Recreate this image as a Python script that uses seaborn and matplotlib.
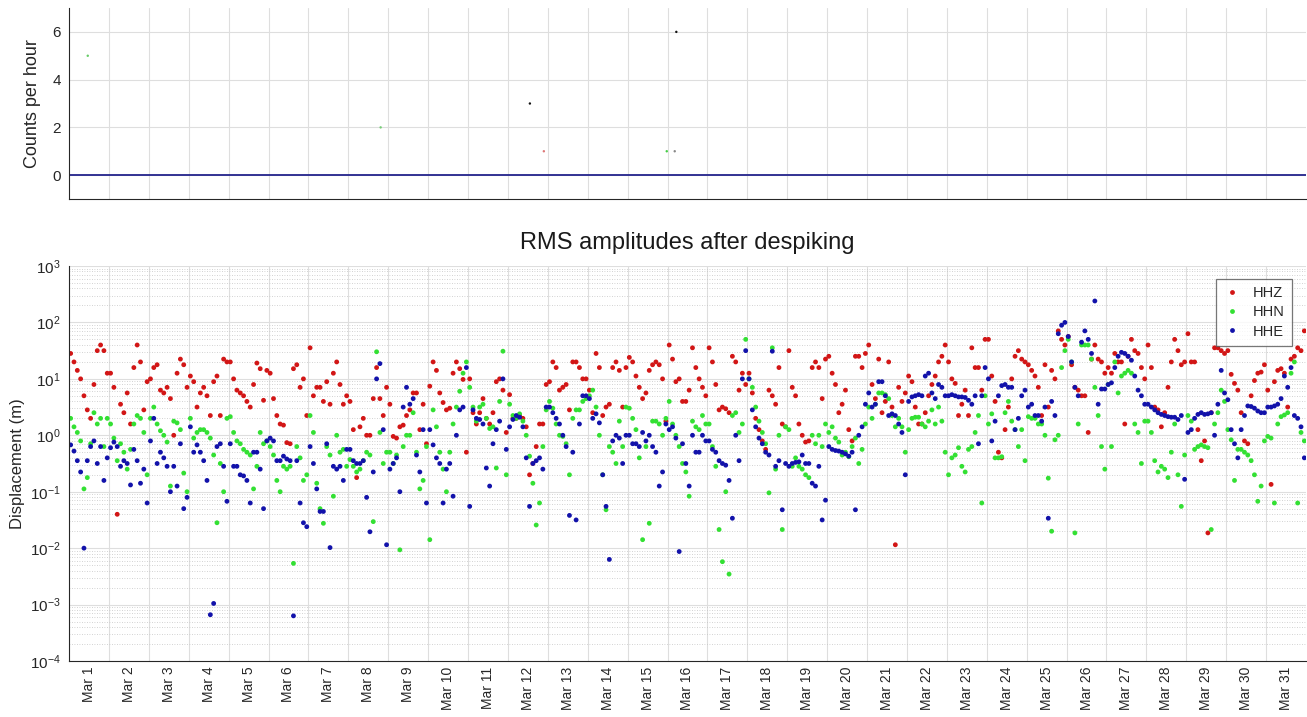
import numpy as np
import pandas as pd
import matplotlib
matplotlib.use("Agg")
import matplotlib.pyplot as plt
from matplotlib.ticker import LogLocator, NullFormatter, LogFormatterMathtext
import seaborn as sns

sns.set_style("white")
plt.rcParams['font.family'] = ['Liberation Sans', 'DejaVu Sans']
plt.rcParams['mathtext.default'] = 'regular'

# ---- data -------------------------------------------------------------
# x tick labels, one per day of March
day_labels = ['Mar %d' % d for d in range(1, 32)]
channels = ['HHZ', 'HHN', 'HHE']
channel_colors = {'HHZ': '#d21616', 'HHN': '#33e033', 'HHE': '#1212aa'}

# RMS displacement, log10(m), one value every two hours (12 per day)
hhz_log10 = [
    1.45, 1.3, 1.15, 1.0, 0.7, 0.45, 0.3, 0.9, 1.5, 1.6, 1.5, 1.1,        # Mar 1
    1.1, 0.85, -1.4, 0.55, 0.4, 0.75, 0.2, 1.2, 1.6, 1.3, 0.45, 0.95,
    1.0, 1.2, 1.25, 0.8, 0.75, 0.85, 0.65, 0.0, 1.1, 1.35, 1.25, 0.85,
    1.05, 0.95, 0.5, 0.75, 0.85, 0.7, 0.35, 0.95, 1.05, 0.35, 1.35, 1.3,
    1.3, 1.0, 0.8, 0.75, 0.7, 0.6, 0.5, 0.9, 1.28, 1.18, 0.62, 1.15,      # Mar 5
    1.1, 0.65, 0.35, 0.2, 0.18, -0.13, -0.15, 1.18, 1.25, 0.85, 1.0, 0.35,
    1.55, 0.7, 0.85, 0.85, 0.6, 0.95, 0.55, 1.1, 1.3, 0.9, 0.55, 0.7,
    0.6, 0.1, -0.75, 0.15, 0.3, 0.0, 0.0, 0.65, 1.2, 0.65, 0.35, 0.85,
    0.55, -0.02, -0.05, 0.15, 0.18, 0.35, 0.45, 0.75, 0.75, 0.1, 0.55, -0.15,
    0.87, 1.3, 1.15, 0.75, 0.58, 0.45, 0.48, 1.1, 1.3, 1.18, 0.99, -0.3,  # Mar 10
    1.0, 0.4, 0.2, 0.4, 0.65, 0.3, 0.2, 0.4, 0.95, 1.0, 0.8, 0.05,
    0.72, 0.3, 0.3, 0.35, 0.3, 0.15, -0.7, -0.5, -0.2, 0.2, 0.2, 0.9,
    0.95, 1.3, 1.2, 0.8, 0.85, 0.9, 0.45, 1.3, 1.3, 1.2, 1.0, 1.0,
    0.8, 0.4, 1.45, 1.2, 0.35, 0.5, 0.55, 1.2, 1.3, 1.15, 0.5, 1.2,
    1.38, 1.3, 1.05, 0.85, 0.65, 0.75, 1.15, 1.25, 1.3, 1.25, 1.0, 0.25,  # Mar 15
    1.6, 1.35, 0.95, 1.0, 0.6, 0.6, 0.8, 1.55, 1.2, 1.0, 0.85, 0.7,
    1.55, 1.3, 0.9, 0.45, 0.5, 0.47, 0.4, 1.4, 1.3, 0.8, 1.1, 0.9,
    1.1, 0.75, 0.3, 0.1, -0.1, -0.25, 0.8, 0.7, 0.55, 1.2, 0.2, 0.15,
    1.5, 0.85, 0.7, 0.2, 0.0, -0.12, -0.1, 1.2, 1.3, 1.2, 0.65, 1.35,
    1.4, 1.1, 0.9, 0.4, 0.55, 0.8, 0.1, -0.1, 1.4, 1.4, 1.2, 1.45,       # Mar 20
    1.6, 0.9, 0.65, 1.35, 0.4, 0.6, 1.3, 0.5, -1.94, 0.85, 0.6, 0.75,
    1.05, 0.95, 0.5, 0.2, 0.2, 0.4, 0.7, 0.9, 1.05, 1.3, 1.4, 1.6,
    1.3, 1.0, 0.92, 0.35, 0.55, 0.8, 0.35, 1.55, 1.2, 1.2, 0.8, 1.7,
    1.7, 1.05, 0.6, -0.3, -0.4, 0.1, 0.5, 1.0, 1.4, 1.5, 1.35, 1.3,
    1.25, 1.15, 1.05, 0.85, 0.35, 1.25, 0.5, 1.15, 1.0, 1.85, 1.7, 1.6,   # Mar 25
    1.75, 1.25, 0.85, 0.8, 0.7, 0.7, 0.05, 1.35, 1.6, 1.35, 1.3, 1.1,
    1.2, 1.1, 1.45, 1.3, 1.3, 0.2, 1.4, 1.7, 1.5, 1.45, 1.2, 1.0,
    1.6, 1.2, 0.5, 0.45, 0.15, 0.4, 0.85, 1.3, 1.7, 1.5, 1.25, 1.3,
    1.8, 1.3, 1.3, 0.1, -0.45, -0.1, -1.73, 0.4, 1.55, 1.55, 1.5, 1.45,
    1.5, 1.08, 0.92, 0.8, 0.4, -0.1, -0.15, 0.7, 0.97, 1.1, 1.12, 1.25,  # Mar 30
    0.8, -0.87, 0.95, 1.15, 1.18, 1.1, 0.5, 1.35, 1.4, 1.55, 1.5, 1.85,
]

hhn_log10 = [
    0.3, 0.15, 0.05, -0.1, -0.95, -0.75, -0.15, 0.4, 0.2, 0.3, -0.2, 0.3,     # Mar 1
    0.2, -0.05, -0.45, -0.15, -0.3, -0.6, -0.25, 0.2, 0.35, 0.3, 0.05, -0.7,
    0.3, 0.5, 0.2, 0.08, 0.0, -0.12, -0.9, 0.25, 0.22, 0.1, -0.67, -1.0,
    0.3, -0.05, 0.05, 0.1, 0.1, 0.05, -0.05, -0.35, -1.55, -0.5, -1.0, 0.3,
    0.33, 0.05, -0.1, -0.15, -0.25, -0.3, -0.35, -0.95, -0.55, 0.05, -0.15, -0.1,  # Mar 5
    -0.2, -0.35, -0.8, -1.0, -0.55, -0.6, -0.55, -2.27, -0.2, -0.4, -0.8, -0.7,
    0.35, 0.05, -0.85, -1.3, -1.56, -0.2, -0.35, -1.08, 0.0, -0.3, -0.25, -0.55,
    -0.43, -0.55, -0.65, -0.6, -0.45, -0.3, -0.35, -1.53, 1.48, 0.05, -0.5, -0.3,
    -0.3, -0.5, -0.35, -2.03, -0.2, 0.0, 0.0, 0.4, -0.3, -0.95, -0.8, -0.2,
    -1.85, 0.45, 0.15, -0.3, -0.6, -1.0, -0.3, 0.2, 0.5, 0.78, 1.1, 1.3,      # Mar 10
    0.85, 0.5, 0.25, 0.5, 0.55, 0.3, 0.12, 0.15, -0.58, 0.6, 1.49, -0.7,
    0.55, 0.35, 0.3, 0.38, 0.25, 0.0, -0.37, -0.85, -1.59, -1.2, -0.2, 0.45,
    0.6, 0.48, 0.2, 0.0, -0.02, -0.15, -0.7, 0.3, 0.45, 0.45, 0.6, 0.65,
    0.7, 0.8, 0.5, 0.0, -0.7, -1.32, -0.2, -0.3, -0.5, 0.25, -0.2, 0.5,
    0.48, 0.3, 0.1, -0.4, -1.85, -0.2, -1.56, 0.25, 0.25, 0.2, 0.0, 0.3,      # Mar 15
    0.6, 0.2, 0.0, -0.2, -0.5, -0.65, -1.08, 0.25, 0.15, 0.1, 0.35, 0.2,
    0.2, -0.2, -0.55, -1.67, -2.24, -1.0, -2.46, 0.35, 0.4, 0.05, 0.2, 1.7,
    1.0, 0.85, 0.5, 0.25, 0.05, -0.15, -1.02, 1.55, -0.6, 0.0, -1.67, 0.15,
    0.1, -0.55, -0.4, -0.55, -0.6, -0.7, -0.75, 0.0, -0.15, 0.0, -0.2, 0.2,
    0.05, 0.15, -0.05, -0.12, -0.35, -0.3, -0.38, -0.2, -0.05, -0.5, -0.25, 0.2,  # Mar 20
    0.5, 0.3, 0.55, 0.75, 0.75, 0.72, 0.65, 0.35, 0.15, 0.3, 0.15, -0.3,
    0.1, 0.3, 0.32, 0.32, 0.2, 0.15, 0.25, 0.45, 0.2, 0.5, 0.25, -0.3,
    -0.7, -0.4, -0.35, -0.22, -0.55, -0.65, -0.25, -0.2, 0.05, 0.35, -1.2, 0.7,
    0.2, 0.38, -0.4, -0.4, -0.38, 0.4, 0.6, 0.25, 0.1, -0.2, 0.1, -0.45,
    0.33, 0.3, 0.3, 0.2, 0.2, 0.0, -0.76, -1.7, -0.08, 0.0, 1.2, 1.5,         # Mar 25
    1.7, 1.3, -1.73, 0.2, 1.6, 1.6, 1.6, 1.35, 0.85, 0.35, -0.2, -0.6,
    0.9, -0.2, 1.3, 0.75, 1.05, 1.1, 1.15, 1.1, 0.2, 0.05, -0.5, 0.25,
    0.25, 0.05, -0.45, -0.65, -0.55, -0.6, -0.75, -0.3, 0.2, -0.7, -1.26, -0.35,
    0.35, 0.25, -0.25, -0.2, -0.17, -0.2, -0.22, -1.67, 0.2, 0.4, 0.8, 0.6,
    0.1, -0.08, -0.8, -0.25, -0.25, -0.3, -0.35, -0.45, -0.7, -1.17, -0.9, -0.1,  # Mar 30
    -0.02, -0.05, -1.2, 0.2, 0.33, 0.36, 0.4, 1.1, 1.3, -1.2, 0.05, -0.1,
]

hhe_log10 = [
    -0.17, -0.28, -0.45, -0.65, -2.0, -0.45, -0.2, -0.1, -0.5, -0.2, -0.8, -0.4,  # Mar 1
    -0.22, -0.12, -0.2, -0.55, -0.45, -0.5, -0.88, -0.25, -0.45, -0.85, -0.6, -1.2,
    -0.1, 0.3, -0.5, -0.3, -0.4, -0.55, -1.0, -0.55, -0.9, -0.15, -1.3, -1.1,
    0.15, -0.3, -0.17, -0.3, -0.45, -0.8, -3.18, -2.98, -0.2, -0.15, -0.55, -1.17,
    -0.15, -0.55, -0.55, -0.7, -0.72, -0.8, -1.2, -0.3, -0.3, -0.6, -1.3, -0.1,   # Mar 5
    -0.05, -0.1, -0.45, -0.45, -0.37, -0.42, -0.45, -3.2, -0.45, -1.2, -1.55, -1.62,
    -0.2, -0.5, -0.95, -1.35, -1.35, -0.15, -1.99, -0.55, -0.6, -0.55, -0.8, -0.25,
    -0.25, -0.45, -0.5, -0.5, -0.45, -1.1, -1.71, -0.65, 1.0, 1.27, 0.1, -1.94,
    -0.6, -0.5, -0.4, -1.0, 0.5, 0.85, 0.55, 0.65, -0.35, -0.65, 0.1, -1.2,
    0.1, -0.17, -0.4, -0.5, -1.2, -0.6, -0.5, -1.08, 0.0, 0.45, 0.5, 1.2,       # Mar 10
    -1.26, 0.45, 0.3, 0.28, 0.2, -0.58, -0.9, -0.15, 0.1, 0.25, 1.0, -0.25,
    0.15, 0.28, 0.35, 0.32, 0.15, -0.4, -1.26, -0.5, -0.45, -0.4, -0.6, 0.5,
    0.5, 0.4, 0.3, 0.2, 0.0, -0.2, -1.42, -0.3, -1.5, 0.2, 0.7, 0.7,
    0.65, 0.3, 0.38, 0.22, -0.7, -1.26, -2.2, -0.1, 0.0, -0.05, -0.5, 0.0,
    0.0, -0.15, -0.15, -0.2, 0.05, -0.1, 0.0, -0.2, -0.3, -0.9, -0.65, 0.2,     # Mar 15
    0.1, 0.15, -0.05, -2.06, -0.15, -0.5, -0.9, 0.0, -0.3, -0.3, 0.0, -0.1,
    -0.1, -0.25, -0.3, -0.45, -0.5, -0.53, -0.8, -1.47, 0.0, -0.45, 1.0, 1.5,
    1.0, 0.45, 0.15, -0.05, -0.15, -0.3, -0.35, 1.49, -0.55, -0.45, -1.32, -0.5,
    -0.55, -0.5, -0.48, -0.47, -0.35, -0.5, -0.5, -0.85, -0.9, -0.55, -1.5, -1.15,
    -0.2, -0.25, -0.27, -0.28, -0.3, -0.33, -0.37, -0.3, -1.32, 0.0, 0.15, 0.55,  # Mar 20
    0.75, 0.5, 0.55, 0.95, 0.95, 0.7, 0.35, 0.38, 0.35, 0.2, 0.05, -0.7,
    0.6, 0.68, 0.7, 0.72, 0.7, 1.05, 1.1, 0.75, 0.65, 0.9, 0.85, 0.7,
    0.7, 0.72, 0.7, 0.68, 0.68, 0.67, 0.62, 0.55, 0.7, -0.15, 0.7, 1.2,
    1.0, -0.1, 0.25, 0.7, 0.88, 0.9, 0.85, 0.85, 0.1, 0.3, 0.7, 0.8,
    0.5, 0.55, 0.35, 0.35, 0.25, 0.5, -1.47, 0.6, 0.35, 1.8, 1.95, 2.0,         # Mar 25
    1.75, 1.3, 0.85, 0.7, 1.65, 1.85, 1.7, 1.45, 2.38, 0.55, 0.82, 0.82,
    0.9, 0.93, 1.2, 1.4, 1.47, 1.45, 1.4, 1.33, 1.05, 0.8, 0.7, 0.55,
    0.55, 0.5, 0.45, 0.4, 0.37, 0.35, 0.33, 0.32, 0.32, 0.28, 0.35, -0.78,
    0.05, 0.1, 0.3, 0.37, 0.4, 0.37, 0.38, 0.4, 0.0, 0.55, 1.15, 0.75,
    0.63, 0.1, -0.15, -0.4, 0.1, 0.35, 0.52, 0.51, 0.48, 0.43, 0.4, 0.4,        # Mar 30
    0.5, 0.5, 0.52, 0.55, 0.65, 1.05, 0.85, 1.2, 0.35, 0.3, 0.15, -0.4,
]

# detection counts per hour (top panel): all zero except a few hours
count_hours = np.arange(31 * 24 + 1)
counts = np.zeros(len(count_hours))
event_day = [0.47, 7.81, 11.55, 11.9, 14.98, 15.18, 15.22]
event_count = [5, 2, 3, 1, 1, 1, 6]
event_color = ['#66cc66', '#77cc77', '#111111', '#dd7777', '#44cc44', '#888888', '#111111']

# ---- frame ---------------------------------------------------------------
n = len(hhz_log10)
sample_day = (np.arange(n) * 2 + 1) / 24.0
df = pd.DataFrame({
    'day': np.tile(sample_day, 3),
    'disp': 10 ** np.concatenate([hhz_log10, hhn_log10, hhe_log10]),
    'channel': np.repeat(channels, n),
})

W, H = 1307, 717
fig = plt.figure(figsize=(W / 100, H / 100), dpi=100)
ax1 = fig.add_axes([69 / W, 1 - 199 / H, 1237 / W, 191 / H])
ax2 = fig.add_axes([69 / W, 1 - 661 / H, 1237 / W, 395 / H])

grid_col = '#dedede'
spine_col = '#262626'

# ---- top panel -----------------------------------------------------------
sns.lineplot(x=count_hours / 24.0, y=counts, ax=ax1, color='#23238c', lw=1.3, estimator=None)
ax1.scatter(event_day, event_count, c=event_color, s=3, linewidths=0, zorder=3)
ax1.set_xlim(0, 31)
ax1.set_ylim(-1, 7)
ax1.set_yticks([0, 2, 4, 6])
ax1.set_xticks(np.arange(1, 31))
ax1.tick_params(axis='x', labelbottom=False)
ax1.grid(True, color=grid_col, lw=0.8)
ax1.set_axisbelow(True)
ax1.tick_params(axis='x', direction='in', length=9.5, width=0.8, color=spine_col)
ax1.tick_params(axis='y', direction='in', length=5, width=0.8, color=spine_col,
                labelsize=11, pad=6, labelcolor='#262626')
ax1.set_ylabel('Counts per hour', fontsize=13, color='#262626')
ax1.yaxis.set_label_coords(-0.0226, 0.5)
ax1.set_xlabel('')

# ---- bottom panel --------------------------------------------------------
sns.scatterplot(data=df, x='day', y='disp', hue='channel', hue_order=channels,
                palette=channel_colors, s=12, linewidth=0, ax=ax2)
ax2.set_yscale('log')
ax2.set_ylim(1e-4, 1e3)
ax2.set_xlim(0, 31)
ax2.yaxis.set_major_locator(LogLocator(base=10, numticks=10))
ax2.yaxis.set_major_formatter(LogFormatterMathtext())
ax2.yaxis.set_minor_locator(LogLocator(base=10, subs=np.arange(2, 10), numticks=20))
ax2.yaxis.set_minor_formatter(NullFormatter())
ax2.set_xticks(np.arange(1, 31))
ax2.xaxis.set_major_formatter(NullFormatter())
ax2.set_xticks(np.arange(0.5, 31), minor=True)
ax2.set_xticklabels(day_labels, minor=True, rotation=90, fontsize=10, color='#262626')
ax2.grid(True, which='major', color=grid_col, lw=0.8)
ax2.grid(True, which='minor', axis='y', color='#c4c4c4', lw=0.6, linestyle=(0, (1, 2)))
ax2.set_axisbelow(True)
ax2.tick_params(axis='x', which='major', direction='in', length=9.5, width=0.8,
                color=spine_col, pad=0)
ax2.tick_params(axis='x', which='minor', length=0, pad=4)
ax2.tick_params(axis='y', which='major', direction='in', length=8.5, width=0.8, color=spine_col,
                labelsize=11, pad=6, labelcolor='#262626')
ax2.tick_params(axis='y', which='minor', length=0)
ax2.set_xlabel('')
ax2.set_ylabel('Displacement (m)', fontsize=12, color='#262626')
ax2.yaxis.set_label_coords(-0.0356, 0.5)
ax2.set_title('RMS amplitudes after despiking', fontsize=17, pad=12, color='#1a1a1a')

sns.move_legend(ax2, 'upper right', bbox_to_anchor=(0.9887, 0.967), title=None,
                frameon=True, fancybox=False, fontsize=10.5, borderaxespad=0,
                handletextpad=0.8, handlelength=1.2, labelspacing=0.35,
                borderpad=0.5, markerscale=1.0, edgecolor='#555555')
ax2.get_legend().get_frame().set_linewidth(0.9)

for ax in (ax1, ax2):
    for side in ('top', 'right'):
        ax.spines[side].set_visible(False)
    for side in ('left', 'bottom'):
        ax.spines[side].set_color(spine_col)
        ax.spines[side].set_linewidth(0.8)

fig.savefig('out.png', dpi=100)
plt.close()
